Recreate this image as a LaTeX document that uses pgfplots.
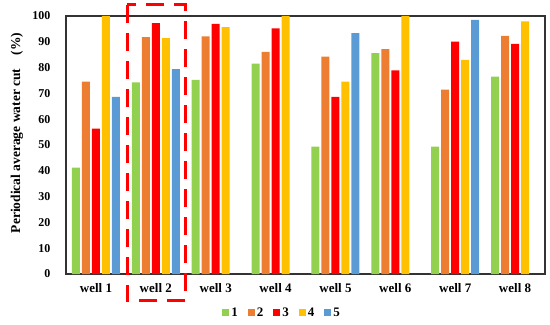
\documentclass[border=0pt]{standalone}
\usepackage{fontspec}
\setmainfont{Liberation Serif}
\usepackage{pgfplots}
\pgfplotsset{compat=1.18}
\definecolor{cg}{HTML}{92D050}
\definecolor{co}{HTML}{ED7D31}
\definecolor{cr}{HTML}{FF0000}
\definecolor{cy}{HTML}{FFC000}
\definecolor{cb}{HTML}{5B9BD5}
\begin{document}
\begin{tikzpicture}
\begin{axis}[
  scale only axis,
  width=479pt, height=258pt,
  ybar=2pt, bar width=8pt,
  xmin=-0.5, xmax=7.5,
  ymin=0, ymax=100,
  ytick={0,10,...,100},
  xtick=data,
  xticklabels={well 1,well 2,well 3,well 4,well 5,well 6,well 7,well 8},
  major tick length=0pt,
  axis line style={draw=black!80, line width=1.2pt},
  /pgf/number format/assume math mode=true,
  yticklabel style={font=\fontsize{12}{13}\selectfont\bfseries, xshift=-12pt},
  xticklabel style={font=\fontsize{13}{14}\selectfont\bfseries, yshift=-6pt},
  ylabel={Periodical average water cut\quad(\%)},
  ylabel style={font=\fontsize{13.5}{15}\selectfont\bfseries, at={(rel axis cs:0,0.547)}, anchor=center, yshift=49pt},
  clip=false,
  legend columns=5,
  legend style={draw=none, at={(0.451,-0.151)}, anchor=center,
    font=\fontsize{13}{14}\selectfont\bfseries,
    /tikz/every even column/.append style={column sep=8pt}},
  legend image code/.code={\fill[#1] (0pt,-3.5pt) rectangle (7pt,3.5pt);},
]
\addplot[fill=cg, draw=none] coordinates {(0,41.2) (1,74.3) (2,75.2) (3,81.5) (4,49.4) (5,85.6) (6,49.4) (7,76.5)};
\addplot[fill=co, draw=none] coordinates {(0,74.6) (1,91.8) (2,92.1) (3,86.1) (4,84.3) (5,87.2) (6,71.5) (7,92.3)};
\addplot[fill=cr, draw=none] coordinates {(0,56.3) (1,97.2) (2,96.9) (3,95.2) (4,68.7) (5,78.9) (6,90.1) (7,89.2)};
\addplot[fill=cy, draw=none] coordinates {(0,100) (1,91.4) (2,95.7) (3,100) (4,74.6) (5,100) (6,83.0) (7,97.9)};
\addplot[fill=cb, draw=none] coordinates {(0,68.7) (1,79.4) (4,93.4) (6,98.5)};
\legend{1,2,3,4,5}
\draw[cr, line width=3pt, dash pattern=on 18pt off 10pt] (axis cs:0.52,104.3) rectangle (axis cs:1.5,-10.3);
\coordinate (sw) at (rel axis cs:0,0);
\coordinate (ne) at (rel axis cs:1,1);
\end{axis}
\pgfresetboundingbox
\path ([shift={(-66pt,-50pt)}]sw) rectangle ([shift={(5pt,16pt)}]ne);
\end{tikzpicture}
\end{document}
